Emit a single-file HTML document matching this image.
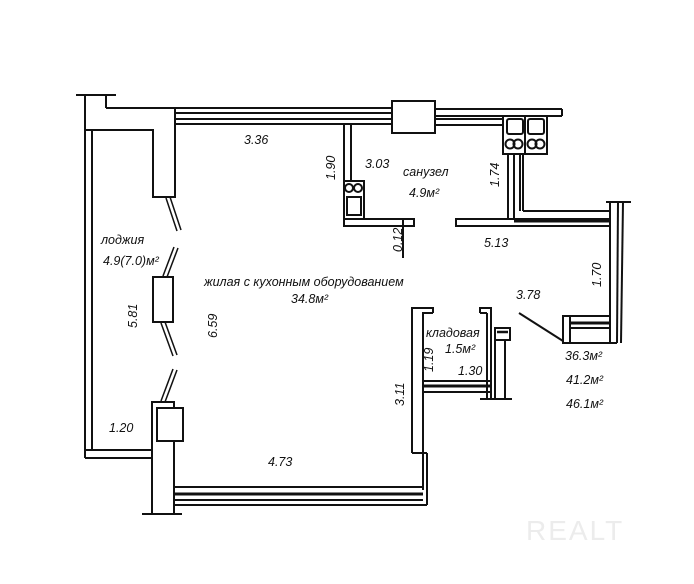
<!DOCTYPE html>
<html><head><meta charset="utf-8"><style>
html,body{margin:0;padding:0;background:#fff;}
svg{display:block}
text{font-family:"Liberation Sans","DejaVu Sans",sans-serif;font-style:italic;font-size:12.5px;fill:#111}
</style></head><body>
<svg width="694" height="584" viewBox="0 0 694 584" xmlns="http://www.w3.org/2000/svg">
<g stroke="#111" stroke-width="2" fill="none">
<line x1="76" y1="95" x2="116" y2="95"/>
<line x1="85" y1="95" x2="85" y2="440"/>
<line x1="92" y1="130" x2="92" y2="450"/>
<line x1="106" y1="95" x2="106" y2="108"/>
<polyline points="106,108 175,108 175,197 153,197 153,130 85,130"/>
<line x1="175" y1="108" x2="392" y2="108"/>
<line x1="175" y1="113" x2="392" y2="113"/>
<line x1="175" y1="119" x2="392" y2="119"/>
<line x1="175" y1="124" x2="392" y2="124"/>
<rect x="392" y="101" width="43" height="32" fill="#fff"/>
<line x1="435" y1="109" x2="562" y2="109"/>
<line x1="435" y1="116" x2="562" y2="116"/>
<line x1="562" y1="109" x2="562" y2="116"/>
<line x1="435" y1="119" x2="503" y2="119"/>
<line x1="435" y1="125" x2="503" y2="125"/>
<rect x="503" y="116" width="44" height="38"/>
<rect x="507" y="119" width="16" height="15" rx="2"/>
<rect x="528" y="119" width="16" height="15" rx="2"/>
<circle cx="510" cy="144" r="4.5"/><circle cx="518" cy="144" r="4.5"/>
<circle cx="532" cy="144" r="4.5"/><circle cx="540" cy="144" r="4.5"/>
<line x1="525" y1="116" x2="525" y2="154"/>
<line x1="344" y1="124" x2="344" y2="219"/>
<line x1="351" y1="124" x2="351" y2="181"/>
<rect x="344" y="181" width="20" height="38"/>
<circle cx="349" cy="188" r="4"/><circle cx="358" cy="188" r="4"/>
<rect x="347" y="197" width="14" height="18"/>
<rect x="344" y="219" width="70" height="7"/>
<line x1="403" y1="220" x2="403" y2="258"/>
<polyline points="514,154 514,219 456,219 456,226 610,226"/>
<line x1="508" y1="154" x2="508" y2="219"/>
<line x1="520" y1="154" x2="520" y2="211"/>
<line x1="523" y1="154" x2="523" y2="211"/>
<line x1="523" y1="211" x2="610" y2="211"/>
<line x1="514" y1="219" x2="610" y2="219"/>
<line x1="514" y1="221" x2="610" y2="221" stroke-width="3"/>
<line x1="606" y1="202" x2="631" y2="202"/>
<line x1="610" y1="202" x2="610" y2="343"/>
<line x1="618" y1="202" x2="617" y2="343"/>
<line x1="623" y1="202" x2="621" y2="343"/>
<line x1="610" y1="343" x2="617" y2="343"/>
<rect x="563" y="316" width="47" height="27"/>
<line x1="570" y1="316" x2="570" y2="343"/>
<line x1="570" y1="323" x2="610" y2="323" stroke-width="3"/>
<line x1="570" y1="328" x2="610" y2="328"/>
<line x1="519" y1="313" x2="563" y2="341"/>
<polyline points="433,313 423,313 423,453"/>
<polyline points="412,453 412,308 433,308 433,313"/>
<polyline points="480,313 480,308 491,308 491,399"/>
<line x1="480" y1="313" x2="487" y2="313"/>
<line x1="487" y1="313" x2="487" y2="399"/>
<rect x="495" y="328" width="15" height="12"/>
<line x1="497" y1="332" x2="508" y2="332" stroke-width="2.5"/>
<line x1="495" y1="340" x2="495" y2="399"/>
<line x1="505" y1="340" x2="505" y2="399"/>
<line x1="423" y1="381" x2="491" y2="381"/>
<line x1="423" y1="386" x2="491" y2="386" stroke-width="3"/>
<line x1="423" y1="392" x2="491" y2="392"/>
<line x1="480" y1="399" x2="512" y2="399"/>
<line x1="427" y1="453" x2="427" y2="505"/>
<line x1="423" y1="453" x2="423" y2="490"/>
<line x1="412" y1="453" x2="427" y2="453"/>
<line x1="174" y1="487" x2="423" y2="487"/>
<line x1="174" y1="494" x2="423" y2="494" stroke-width="3"/>
<line x1="174" y1="505" x2="427" y2="505"/>
<line x1="174" y1="500" x2="423" y2="500"/>
<rect x="152" y="402" width="22" height="112" fill="#fff"/>
<rect x="157" y="408" width="26" height="33" fill="#fff"/>
<line x1="142" y1="514" x2="182" y2="514"/>
<line x1="85" y1="450" x2="152" y2="450"/>
<line x1="85" y1="458" x2="152" y2="458"/>
<line x1="85" y1="440" x2="85" y2="458"/>
<rect x="153" y="277" width="20" height="45" fill="#fff"/>
</g>
<g stroke="#111" stroke-width="1.5" fill="none">
<line x1="166" y1="198" x2="177" y2="231"/><line x1="170" y1="197" x2="181" y2="230"/>
<line x1="174" y1="247" x2="163" y2="276"/><line x1="178" y1="248" x2="167" y2="277"/>
<line x1="161" y1="323" x2="173" y2="356"/><line x1="165" y1="322" x2="177" y2="355"/>
<line x1="173" y1="369" x2="161" y2="401"/><line x1="177" y1="370" x2="165" y2="402"/>
</g>
<text x="244" y="144">3.36</text>
<text x="365" y="168">3.03</text>
<text transform="translate(335,180) rotate(-90)">1.90</text>
<text x="403" y="176">санузел</text>
<text x="409" y="197">4.9м²</text>
<text transform="translate(499,187) rotate(-90)">1.74</text>
<text transform="translate(402,252) rotate(-90)">0.12</text>
<text x="484" y="247">5.13</text>
<text transform="translate(601,287) rotate(-90)">1.70</text>
<text x="516" y="299">3.78</text>
<text x="101" y="244">лоджия</text>
<text x="103" y="265">4.9(7.0)м²</text>
<text x="204" y="286">жилая с кухонным оборудованием</text>
<text x="291" y="303">34.8м²</text>
<text transform="translate(137,328) rotate(-90)">5.81</text>
<text transform="translate(217,338) rotate(-90)">6.59</text>
<text x="426" y="337">кладовая</text>
<text x="445" y="353">1.5м²</text>
<text transform="translate(433,372) rotate(-90)">1.19</text>
<text x="458" y="375">1.30</text>
<text transform="translate(404,406) rotate(-90)">3.11</text>
<text x="565" y="360">36.3м²</text>
<text x="566" y="384">41.2м²</text>
<text x="566" y="408">46.1м²</text>
<text x="109" y="432">1.20</text>
<text x="268" y="466">4.73</text>
<text x="526" y="540" style="font-style:normal;font-size:28px;fill:#ececec;letter-spacing:2px">REALT</text>
</svg>
</body></html>
